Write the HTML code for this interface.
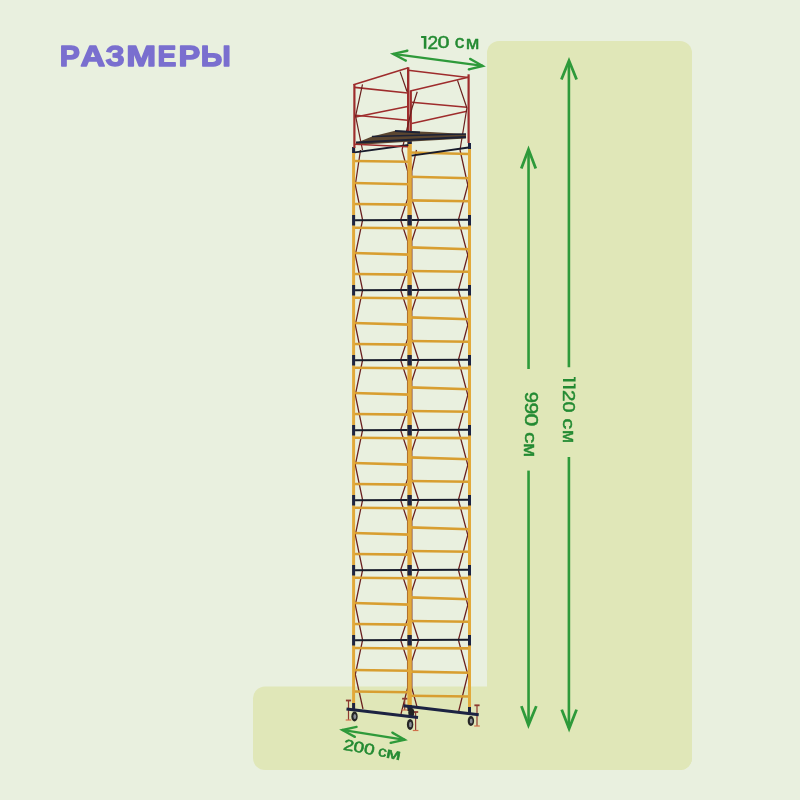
<!DOCTYPE html>
<html><head><meta charset="utf-8">
<style>
html,body{margin:0;padding:0;}
body{width:800px;height:800px;overflow:hidden;background:#e9f0df;position:relative;font-family:"Liberation Sans",sans-serif;}
svg{position:absolute;left:0;top:0;will-change:transform;}
svg text{font-family:"Liberation Sans",sans-serif;}
</style></head><body>
<svg width="800" height="800" viewBox="0 0 800 800">
<rect x="487" y="41" width="205" height="729" rx="12" fill="#e0e7b8"/>
<rect x="253" y="686.5" width="439" height="83.5" rx="12" fill="#e0e7b8"/>
<polyline points="360.50,150.00 355.30,185.00 362.60,220.00 355.30,255.00 362.60,290.00 355.30,325.00 362.60,360.00 355.30,395.00 362.60,430.00 355.30,465.00 362.60,500.00 355.30,535.00 362.60,570.00 355.30,605.00 362.60,640.00 355.30,674.50 363.00,709.00" fill="none" stroke="#6a1f1d" stroke-width="1.25" stroke-linejoin="round"/>
<polyline points="402.00,150.00 407.60,171.00 407.60,199.00 400.60,220.00 407.60,241.00 407.60,269.00 400.60,290.00 407.60,311.00 407.60,339.00 400.60,360.00 407.60,381.00 407.60,409.00 400.60,430.00 407.60,451.00 407.60,479.00 400.60,500.00 407.60,521.00 407.60,549.00 400.60,570.00 407.60,591.00 407.60,619.00 400.60,640.00 407.60,661.00 407.60,688.00 401.00,714.00" fill="none" stroke="#6a1f1d" stroke-width="1.25" stroke-linejoin="round"/>
<polyline points="416.50,150.00 411.80,171.00 411.80,199.00 418.60,220.00 411.80,241.00 411.80,269.00 418.60,290.00 411.80,311.00 411.80,339.00 418.60,360.00 411.80,381.00 411.80,409.00 418.60,430.00 411.80,451.00 411.80,479.00 418.60,500.00 411.80,521.00 411.80,549.00 418.60,570.00 411.80,591.00 411.80,619.00 418.60,640.00 411.80,661.00 411.80,688.00 416.90,706.40" fill="none" stroke="#6a1f1d" stroke-width="1.25" stroke-linejoin="round"/>
<polyline points="460.00,150.00 467.80,185.00 458.40,220.00 467.80,255.00 458.40,290.00 467.80,325.00 458.40,360.00 467.80,395.00 458.40,430.00 467.80,465.00 458.40,500.00 467.80,535.00 458.40,570.00 467.80,605.00 458.40,640.00 467.80,674.50 458.50,712.00" fill="none" stroke="#6a1f1d" stroke-width="1.25" stroke-linejoin="round"/>
<line x1="353.60" y1="161.00" x2="409.60" y2="161.80" stroke="#d89e30" stroke-width="2.6" stroke-linecap="butt"/>
<line x1="353.60" y1="183.00" x2="409.60" y2="184.20" stroke="#d89e30" stroke-width="2.6" stroke-linecap="butt"/>
<line x1="353.60" y1="204.00" x2="409.60" y2="204.60" stroke="#d89e30" stroke-width="2.6" stroke-linecap="butt"/>
<line x1="409.60" y1="152.50" x2="469.50" y2="154.00" stroke="#d89e30" stroke-width="2.6" stroke-linecap="butt"/>
<line x1="409.60" y1="176.80" x2="469.50" y2="178.30" stroke="#d89e30" stroke-width="2.6" stroke-linecap="butt"/>
<line x1="409.60" y1="200.40" x2="469.50" y2="201.20" stroke="#d89e30" stroke-width="2.6" stroke-linecap="butt"/>
<line x1="353.60" y1="227.70" x2="409.60" y2="228.30" stroke="#d89e30" stroke-width="2.6" stroke-linecap="butt"/>
<line x1="353.60" y1="253.00" x2="409.60" y2="254.60" stroke="#d89e30" stroke-width="2.6" stroke-linecap="butt"/>
<line x1="353.60" y1="274.00" x2="409.60" y2="274.60" stroke="#d89e30" stroke-width="2.6" stroke-linecap="butt"/>
<line x1="409.60" y1="227.70" x2="469.50" y2="228.10" stroke="#d89e30" stroke-width="2.6" stroke-linecap="butt"/>
<line x1="409.60" y1="247.40" x2="469.50" y2="249.30" stroke="#d89e30" stroke-width="2.6" stroke-linecap="butt"/>
<line x1="409.60" y1="271.00" x2="469.50" y2="271.80" stroke="#d89e30" stroke-width="2.6" stroke-linecap="butt"/>
<line x1="353.60" y1="297.70" x2="409.60" y2="298.30" stroke="#d89e30" stroke-width="2.6" stroke-linecap="butt"/>
<line x1="353.60" y1="323.00" x2="409.60" y2="324.60" stroke="#d89e30" stroke-width="2.6" stroke-linecap="butt"/>
<line x1="353.60" y1="344.00" x2="409.60" y2="344.60" stroke="#d89e30" stroke-width="2.6" stroke-linecap="butt"/>
<line x1="409.60" y1="297.70" x2="469.50" y2="298.10" stroke="#d89e30" stroke-width="2.6" stroke-linecap="butt"/>
<line x1="409.60" y1="317.40" x2="469.50" y2="319.30" stroke="#d89e30" stroke-width="2.6" stroke-linecap="butt"/>
<line x1="409.60" y1="341.00" x2="469.50" y2="341.80" stroke="#d89e30" stroke-width="2.6" stroke-linecap="butt"/>
<line x1="353.60" y1="367.70" x2="409.60" y2="368.30" stroke="#d89e30" stroke-width="2.6" stroke-linecap="butt"/>
<line x1="353.60" y1="393.00" x2="409.60" y2="394.60" stroke="#d89e30" stroke-width="2.6" stroke-linecap="butt"/>
<line x1="353.60" y1="414.00" x2="409.60" y2="414.60" stroke="#d89e30" stroke-width="2.6" stroke-linecap="butt"/>
<line x1="409.60" y1="367.70" x2="469.50" y2="368.10" stroke="#d89e30" stroke-width="2.6" stroke-linecap="butt"/>
<line x1="409.60" y1="387.40" x2="469.50" y2="389.30" stroke="#d89e30" stroke-width="2.6" stroke-linecap="butt"/>
<line x1="409.60" y1="411.00" x2="469.50" y2="411.80" stroke="#d89e30" stroke-width="2.6" stroke-linecap="butt"/>
<line x1="353.60" y1="437.70" x2="409.60" y2="438.30" stroke="#d89e30" stroke-width="2.6" stroke-linecap="butt"/>
<line x1="353.60" y1="463.00" x2="409.60" y2="464.60" stroke="#d89e30" stroke-width="2.6" stroke-linecap="butt"/>
<line x1="353.60" y1="484.00" x2="409.60" y2="484.60" stroke="#d89e30" stroke-width="2.6" stroke-linecap="butt"/>
<line x1="409.60" y1="437.70" x2="469.50" y2="438.10" stroke="#d89e30" stroke-width="2.6" stroke-linecap="butt"/>
<line x1="409.60" y1="457.40" x2="469.50" y2="459.30" stroke="#d89e30" stroke-width="2.6" stroke-linecap="butt"/>
<line x1="409.60" y1="481.00" x2="469.50" y2="481.80" stroke="#d89e30" stroke-width="2.6" stroke-linecap="butt"/>
<line x1="353.60" y1="507.70" x2="409.60" y2="508.30" stroke="#d89e30" stroke-width="2.6" stroke-linecap="butt"/>
<line x1="353.60" y1="533.00" x2="409.60" y2="534.60" stroke="#d89e30" stroke-width="2.6" stroke-linecap="butt"/>
<line x1="353.60" y1="554.00" x2="409.60" y2="554.60" stroke="#d89e30" stroke-width="2.6" stroke-linecap="butt"/>
<line x1="409.60" y1="507.70" x2="469.50" y2="508.10" stroke="#d89e30" stroke-width="2.6" stroke-linecap="butt"/>
<line x1="409.60" y1="527.40" x2="469.50" y2="529.30" stroke="#d89e30" stroke-width="2.6" stroke-linecap="butt"/>
<line x1="409.60" y1="551.00" x2="469.50" y2="551.80" stroke="#d89e30" stroke-width="2.6" stroke-linecap="butt"/>
<line x1="353.60" y1="577.70" x2="409.60" y2="578.30" stroke="#d89e30" stroke-width="2.6" stroke-linecap="butt"/>
<line x1="353.60" y1="603.00" x2="409.60" y2="604.60" stroke="#d89e30" stroke-width="2.6" stroke-linecap="butt"/>
<line x1="353.60" y1="624.00" x2="409.60" y2="624.60" stroke="#d89e30" stroke-width="2.6" stroke-linecap="butt"/>
<line x1="409.60" y1="577.70" x2="469.50" y2="578.10" stroke="#d89e30" stroke-width="2.6" stroke-linecap="butt"/>
<line x1="409.60" y1="597.40" x2="469.50" y2="599.30" stroke="#d89e30" stroke-width="2.6" stroke-linecap="butt"/>
<line x1="409.60" y1="621.00" x2="469.50" y2="621.80" stroke="#d89e30" stroke-width="2.6" stroke-linecap="butt"/>
<line x1="353.60" y1="648.00" x2="409.60" y2="648.50" stroke="#d89e30" stroke-width="2.6" stroke-linecap="butt"/>
<line x1="353.60" y1="670.00" x2="409.60" y2="670.80" stroke="#d89e30" stroke-width="2.6" stroke-linecap="butt"/>
<line x1="353.60" y1="691.50" x2="409.60" y2="692.30" stroke="#d89e30" stroke-width="2.6" stroke-linecap="butt"/>
<line x1="409.60" y1="648.00" x2="469.50" y2="648.40" stroke="#d89e30" stroke-width="2.6" stroke-linecap="butt"/>
<line x1="409.60" y1="671.60" x2="469.50" y2="672.80" stroke="#d89e30" stroke-width="2.6" stroke-linecap="butt"/>
<line x1="409.60" y1="695.70" x2="469.50" y2="696.50" stroke="#d89e30" stroke-width="2.6" stroke-linecap="butt"/>
<line x1="353.60" y1="220.30" x2="409.60" y2="220.00" stroke="#181b2b" stroke-width="2.1" stroke-linecap="butt"/>
<line x1="409.60" y1="220.00" x2="469.50" y2="219.70" stroke="#181b2b" stroke-width="2.1" stroke-linecap="butt"/>
<line x1="353.60" y1="290.30" x2="409.60" y2="290.00" stroke="#181b2b" stroke-width="2.1" stroke-linecap="butt"/>
<line x1="409.60" y1="290.00" x2="469.50" y2="289.70" stroke="#181b2b" stroke-width="2.1" stroke-linecap="butt"/>
<line x1="353.60" y1="360.30" x2="409.60" y2="360.00" stroke="#181b2b" stroke-width="2.1" stroke-linecap="butt"/>
<line x1="409.60" y1="360.00" x2="469.50" y2="359.70" stroke="#181b2b" stroke-width="2.1" stroke-linecap="butt"/>
<line x1="353.60" y1="430.30" x2="409.60" y2="430.00" stroke="#181b2b" stroke-width="2.1" stroke-linecap="butt"/>
<line x1="409.60" y1="430.00" x2="469.50" y2="429.70" stroke="#181b2b" stroke-width="2.1" stroke-linecap="butt"/>
<line x1="353.60" y1="500.30" x2="409.60" y2="500.00" stroke="#181b2b" stroke-width="2.1" stroke-linecap="butt"/>
<line x1="409.60" y1="500.00" x2="469.50" y2="499.70" stroke="#181b2b" stroke-width="2.1" stroke-linecap="butt"/>
<line x1="353.60" y1="570.30" x2="409.60" y2="570.00" stroke="#181b2b" stroke-width="2.1" stroke-linecap="butt"/>
<line x1="409.60" y1="570.00" x2="469.50" y2="569.70" stroke="#181b2b" stroke-width="2.1" stroke-linecap="butt"/>
<line x1="353.60" y1="640.30" x2="409.60" y2="640.00" stroke="#181b2b" stroke-width="2.1" stroke-linecap="butt"/>
<line x1="409.60" y1="640.00" x2="469.50" y2="639.70" stroke="#181b2b" stroke-width="2.1" stroke-linecap="butt"/>
<line x1="353.60" y1="147.00" x2="353.60" y2="709.00" stroke="#e2a93a" stroke-width="3" stroke-linecap="butt"/>
<line x1="353.60" y1="215.00" x2="353.60" y2="225.50" stroke="#1c2342" stroke-width="3" stroke-linecap="butt"/>
<line x1="353.60" y1="285.00" x2="353.60" y2="295.50" stroke="#1c2342" stroke-width="3" stroke-linecap="butt"/>
<line x1="353.60" y1="355.00" x2="353.60" y2="365.50" stroke="#1c2342" stroke-width="3" stroke-linecap="butt"/>
<line x1="353.60" y1="425.00" x2="353.60" y2="435.50" stroke="#1c2342" stroke-width="3" stroke-linecap="butt"/>
<line x1="353.60" y1="495.00" x2="353.60" y2="505.50" stroke="#1c2342" stroke-width="3" stroke-linecap="butt"/>
<line x1="353.60" y1="565.00" x2="353.60" y2="575.50" stroke="#1c2342" stroke-width="3" stroke-linecap="butt"/>
<line x1="353.60" y1="635.00" x2="353.60" y2="645.50" stroke="#1c2342" stroke-width="3" stroke-linecap="butt"/>
<line x1="353.60" y1="147.00" x2="353.60" y2="153.00" stroke="#1c2342" stroke-width="3" stroke-linecap="butt"/>
<line x1="409.60" y1="138.00" x2="409.60" y2="711.00" stroke="#e2a93a" stroke-width="4.4" stroke-linecap="butt"/>
<line x1="409.60" y1="215.00" x2="409.60" y2="225.50" stroke="#1c2342" stroke-width="4.4" stroke-linecap="butt"/>
<line x1="409.60" y1="285.00" x2="409.60" y2="295.50" stroke="#1c2342" stroke-width="4.4" stroke-linecap="butt"/>
<line x1="409.60" y1="355.00" x2="409.60" y2="365.50" stroke="#1c2342" stroke-width="4.4" stroke-linecap="butt"/>
<line x1="409.60" y1="425.00" x2="409.60" y2="435.50" stroke="#1c2342" stroke-width="4.4" stroke-linecap="butt"/>
<line x1="409.60" y1="495.00" x2="409.60" y2="505.50" stroke="#1c2342" stroke-width="4.4" stroke-linecap="butt"/>
<line x1="409.60" y1="565.00" x2="409.60" y2="575.50" stroke="#1c2342" stroke-width="4.4" stroke-linecap="butt"/>
<line x1="409.60" y1="635.00" x2="409.60" y2="645.50" stroke="#1c2342" stroke-width="4.4" stroke-linecap="butt"/>
<line x1="409.60" y1="138.00" x2="409.60" y2="144.00" stroke="#1c2342" stroke-width="4.4" stroke-linecap="butt"/>
<line x1="469.50" y1="143.00" x2="469.50" y2="713.00" stroke="#e2a93a" stroke-width="3" stroke-linecap="butt"/>
<line x1="469.50" y1="215.00" x2="469.50" y2="225.50" stroke="#1c2342" stroke-width="3" stroke-linecap="butt"/>
<line x1="469.50" y1="285.00" x2="469.50" y2="295.50" stroke="#1c2342" stroke-width="3" stroke-linecap="butt"/>
<line x1="469.50" y1="355.00" x2="469.50" y2="365.50" stroke="#1c2342" stroke-width="3" stroke-linecap="butt"/>
<line x1="469.50" y1="425.00" x2="469.50" y2="435.50" stroke="#1c2342" stroke-width="3" stroke-linecap="butt"/>
<line x1="469.50" y1="495.00" x2="469.50" y2="505.50" stroke="#1c2342" stroke-width="3" stroke-linecap="butt"/>
<line x1="469.50" y1="565.00" x2="469.50" y2="575.50" stroke="#1c2342" stroke-width="3" stroke-linecap="butt"/>
<line x1="469.50" y1="635.00" x2="469.50" y2="645.50" stroke="#1c2342" stroke-width="3" stroke-linecap="butt"/>
<line x1="469.50" y1="143.00" x2="469.50" y2="149.00" stroke="#1c2342" stroke-width="3" stroke-linecap="butt"/>
<line x1="353.60" y1="703.00" x2="353.60" y2="709.00" stroke="#1c2342" stroke-width="3" stroke-linecap="butt"/>
<line x1="469.50" y1="707.00" x2="469.50" y2="713.00" stroke="#1c2342" stroke-width="3" stroke-linecap="butt"/>
<line x1="409.60" y1="705.00" x2="409.60" y2="711.00" stroke="#1c2342" stroke-width="4.4" stroke-linecap="butt"/>
<line x1="354.40" y1="84.00" x2="354.40" y2="148.00" stroke="#9e2c2c" stroke-width="2.2" stroke-linecap="butt"/>
<line x1="408.20" y1="67.30" x2="408.20" y2="140.00" stroke="#9e2c2c" stroke-width="2.4" stroke-linecap="butt"/>
<line x1="410.80" y1="90.50" x2="410.80" y2="140.00" stroke="#9e2c2c" stroke-width="2.2" stroke-linecap="butt"/>
<line x1="468.60" y1="74.30" x2="468.60" y2="143.00" stroke="#9e2c2c" stroke-width="2.2" stroke-linecap="butt"/>
<line x1="353.50" y1="84.80" x2="408.40" y2="67.70" stroke="#9e2c2c" stroke-width="1.6" stroke-linecap="butt"/>
<line x1="408.10" y1="70.30" x2="468.20" y2="77.50" stroke="#9e2c2c" stroke-width="1.5" stroke-linecap="butt"/>
<line x1="410.30" y1="90.90" x2="468.20" y2="77.20" stroke="#9e2c2c" stroke-width="1.5" stroke-linecap="butt"/>
<line x1="354.60" y1="87.40" x2="407.60" y2="93.00" stroke="#9e2c2c" stroke-width="1.6" stroke-linecap="butt"/>
<line x1="355.60" y1="116.90" x2="407.60" y2="106.40" stroke="#9e2c2c" stroke-width="1.5" stroke-linecap="butt"/>
<line x1="355.60" y1="115.30" x2="407.60" y2="120.20" stroke="#9e2c2c" stroke-width="1.5" stroke-linecap="butt"/>
<line x1="411.60" y1="102.30" x2="466.90" y2="107.20" stroke="#9e2c2c" stroke-width="1.5" stroke-linecap="butt"/>
<line x1="411.60" y1="123.40" x2="466.90" y2="111.25" stroke="#9e2c2c" stroke-width="1.5" stroke-linecap="butt"/>
<polyline points="362.50,84.30 355.60,116.10 362.50,150.00" fill="none" stroke="#6a1f1d" stroke-width="1.2" stroke-linejoin="round"/>
<polyline points="400.10,71.60 407.10,91.75" fill="none" stroke="#6a1f1d" stroke-width="1.2" stroke-linejoin="round"/>
<polyline points="417.25,91.75 412.00,108.00 402.00,150.00" fill="none" stroke="#6a1f1d" stroke-width="1.2" stroke-linejoin="round"/>
<polyline points="457.50,80.40 466.90,108.00 460.00,150.00" fill="none" stroke="#6a1f1d" stroke-width="1.2" stroke-linejoin="round"/>
<polygon points="356,143 372,136.5 396,130.5 430,132 466,134 466,138.5 412,141.5 356,145" fill="#5b4630"/>
<line x1="356.00" y1="142.50" x2="466.00" y2="137.00" stroke="#1d2236" stroke-width="2.2" stroke-linecap="butt"/>
<line x1="372.00" y1="136.50" x2="466.00" y2="134.00" stroke="#1d2236" stroke-width="1.4" stroke-linecap="butt"/>
<line x1="395.00" y1="131.00" x2="420.00" y2="132.50" stroke="#1d2236" stroke-width="2" stroke-linecap="butt"/>
<line x1="354.75" y1="152.40" x2="408.40" y2="145.00" stroke="#181b2b" stroke-width="1.8" stroke-linecap="butt"/>
<line x1="411.60" y1="155.60" x2="468.50" y2="147.50" stroke="#181b2b" stroke-width="1.8" stroke-linecap="butt"/>
<line x1="354.75" y1="144.30" x2="408.00" y2="146.70" stroke="#9e2c2c" stroke-width="1.4" stroke-linecap="butt"/>
<line x1="348.50" y1="700.50" x2="348.50" y2="720.00" stroke="#8c3a30" stroke-width="1.2" stroke-linecap="butt"/>
<line x1="345.90" y1="700.50" x2="351.10" y2="700.50" stroke="#8c3a30" stroke-width="1.8" stroke-linecap="butt"/>
<line x1="345.70" y1="720.00" x2="351.30" y2="720.00" stroke="#d0704a" stroke-width="1.2" stroke-linecap="butt"/>
<line x1="415.60" y1="712.00" x2="415.60" y2="730.50" stroke="#8c3a30" stroke-width="1.2" stroke-linecap="butt"/>
<line x1="413.00" y1="712.00" x2="418.20" y2="712.00" stroke="#8c3a30" stroke-width="1.8" stroke-linecap="butt"/>
<line x1="412.80" y1="730.50" x2="418.40" y2="730.50" stroke="#d0704a" stroke-width="1.2" stroke-linecap="butt"/>
<line x1="477.00" y1="705.30" x2="477.00" y2="726.00" stroke="#8c3a30" stroke-width="1.2" stroke-linecap="butt"/>
<line x1="474.40" y1="705.30" x2="479.60" y2="705.30" stroke="#8c3a30" stroke-width="1.8" stroke-linecap="butt"/>
<line x1="474.20" y1="726.00" x2="479.80" y2="726.00" stroke="#d0704a" stroke-width="1.2" stroke-linecap="butt"/>
<line x1="404.70" y1="698.70" x2="404.70" y2="710.00" stroke="#8c3a30" stroke-width="1.2" stroke-linecap="butt"/>
<line x1="402.10" y1="698.70" x2="407.30" y2="698.70" stroke="#8c3a30" stroke-width="1.8" stroke-linecap="butt"/>
<line x1="401.90" y1="710.00" x2="407.50" y2="710.00" stroke="#d0704a" stroke-width="1.2" stroke-linecap="butt"/>
<ellipse cx="411.25" cy="712.5" rx="3" ry="4.5" fill="#222"/>
<line x1="346.50" y1="709.00" x2="418.00" y2="717.50" stroke="#1c2342" stroke-width="3" stroke-linecap="butt"/>
<line x1="403.40" y1="705.80" x2="478.75" y2="714.80" stroke="#1c2342" stroke-width="3" stroke-linecap="butt"/>
<ellipse cx="354.5" cy="716.5" rx="3.2" ry="5" fill="#262626"/>
<ellipse cx="354.8" cy="716.5" rx="1.4" ry="2.5" fill="#8a8f96"/>
<ellipse cx="410.1" cy="724.4" rx="3.2" ry="5.5" fill="#262626"/>
<ellipse cx="410.40000000000003" cy="724.4" rx="1.4" ry="2.75" fill="#8a8f96"/>
<ellipse cx="470.9" cy="721" rx="3.2" ry="5" fill="#262626"/>
<ellipse cx="471.2" cy="721" rx="1.4" ry="2.5" fill="#8a8f96"/>
<polygon points="389.90,53.40 407.23,49.61 407.57,51.89 396.45,54.32 406.38,59.65 405.42,61.75" fill="#2e9a3a"/>
<circle cx="407.40" cy="50.75" r="1.15" fill="#2e9a3a"/>
<circle cx="405.90" cy="60.70" r="1.15" fill="#2e9a3a"/>
<polygon points="485.90,66.40 470.59,57.86 469.61,59.94 479.68,65.56 468.60,68.27 469.00,70.53" fill="#2e9a3a"/>
<circle cx="470.10" cy="58.90" r="1.15" fill="#2e9a3a"/>
<circle cx="468.80" cy="69.40" r="1.15" fill="#2e9a3a"/>
<line x1="393.00" y1="53.80" x2="483.00" y2="65.90" stroke="#2e9a3a" stroke-width="2.3" stroke-linecap="butt"/>
<polygon points="339.10,729.40 356.44,725.76 356.76,728.04 345.58,730.39 355.39,735.86 354.41,737.94" fill="#2e9a3a"/>
<circle cx="356.60" cy="726.90" r="1.15" fill="#2e9a3a"/>
<circle cx="354.90" cy="736.90" r="1.15" fill="#2e9a3a"/>
<polygon points="407.90,740.25 392.81,731.57 391.79,733.63 401.62,739.29 390.43,741.76 390.77,744.04" fill="#2e9a3a"/>
<circle cx="392.30" cy="732.60" r="1.15" fill="#2e9a3a"/>
<circle cx="390.60" cy="742.90" r="1.15" fill="#2e9a3a"/>
<line x1="342.00" y1="729.90" x2="405.00" y2="739.80" stroke="#2e9a3a" stroke-width="2.3" stroke-linecap="butt"/>
<polygon points="569.00,57.00 560.10,79.06 562.70,79.94 569.00,64.34 575.30,79.94 577.90,79.06" fill="#2e9a3a"/>
<polygon points="569.10,732.40 560.39,710.02 563.01,709.18 569.11,724.85 575.24,709.17 577.86,710.03" fill="#2e9a3a"/>
<line x1="568.90" y1="62.00" x2="568.90" y2="367.25" stroke="#2e9a3a" stroke-width="2.6" stroke-linecap="butt"/>
<line x1="568.90" y1="457.00" x2="568.90" y2="728.00" stroke="#2e9a3a" stroke-width="2.6" stroke-linecap="butt"/>
<polygon points="528.50,145.50 519.99,168.09 522.61,168.91 528.51,153.27 534.44,168.91 537.06,168.09" fill="#2e9a3a"/>
<polygon points="528.40,728.90 520.09,706.50 522.71,705.70 528.53,721.37 535.00,705.65 537.60,706.55" fill="#2e9a3a"/>
<line x1="528.55" y1="150.00" x2="528.55" y2="369.00" stroke="#2e9a3a" stroke-width="2.6" stroke-linecap="butt"/>
<line x1="528.55" y1="470.60" x2="528.55" y2="725.00" stroke="#2e9a3a" stroke-width="2.6" stroke-linecap="butt"/>
<text transform="matrix(0.7539 0 0 0.7478 59.73 65.79)" font-size="40" font-weight="bold" fill="#7a6fcf" stroke="#7a6fcf" stroke-width="1.9" stroke-linejoin="round">Р</text>
<text transform="matrix(0.8537 0 0 0.7478 80.42 65.79)" font-size="40" font-weight="bold" fill="#7a6fcf" stroke="#7a6fcf" stroke-width="1.9" stroke-linejoin="round">А</text>
<text transform="matrix(0.7664 0 0 0.7280 105.49 65.52)" font-size="40" font-weight="bold" fill="#7a6fcf" stroke="#7a6fcf" stroke-width="1.9" stroke-linejoin="round">З</text>
<text transform="matrix(0.8980 0 0 0.7478 126.23 65.79)" font-size="40" font-weight="bold" fill="#7a6fcf" stroke="#7a6fcf" stroke-width="1.9" stroke-linejoin="round">М</text>
<text transform="matrix(0.7055 0 0 0.7478 157.51 65.79)" font-size="40" font-weight="bold" fill="#7a6fcf" stroke="#7a6fcf" stroke-width="1.9" stroke-linejoin="round">Е</text>
<text transform="matrix(0.8150 0 0 0.7478 178.62 65.79)" font-size="40" font-weight="bold" fill="#7a6fcf" stroke="#7a6fcf" stroke-width="1.9" stroke-linejoin="round">Р</text>
<text transform="matrix(0.7694 0 0 0.7478 200.70 65.79)" font-size="40" font-weight="bold" fill="#7a6fcf" stroke="#7a6fcf" stroke-width="1.9" stroke-linejoin="round">Ы</text>
<path d="M421.10,36.10H426.40V48.80H423.80V37.90H421.10Z" fill="#238a32"/>
<text transform="matrix(0.4769 0 0 0.4384 427.40 48.57)" font-size="40" font-weight="normal" fill="#238a32" stroke="#238a32" stroke-width="1.05" stroke-linejoin="round">2</text>
<text transform="matrix(0.5404 0 0 0.4324 437.62 48.40)" font-size="40" font-weight="normal" fill="#238a32" stroke="#238a32" stroke-width="1.05" stroke-linejoin="round">0</text>
<text transform="matrix(0.4801 0 0 0.4375 454.65 48.40)" font-size="40" font-weight="normal" fill="#238a32" stroke="#238a32" stroke-width="1.05" stroke-linejoin="round">с</text>
<text transform="matrix(0.4963 0 0 0.4533 465.87 48.56)" font-size="40" font-weight="normal" fill="#238a32" stroke="#238a32" stroke-width="1.05" stroke-linejoin="round">м</text>
<g transform="translate(563.0,0) rotate(90)"><path d="M377.00,-12.60H381.60V0.00H379.00V-10.80H377.00Z" fill="#238a32"/><path d="M383.80,-12.60H388.50V0.00H385.90V-10.80H383.80Z" fill="#238a32"/><text transform="matrix(0.5132 0 0 0.4349 389.94 -0.23)" font-size="40" font-weight="normal" fill="#238a32" stroke="#238a32" stroke-width="1.05" stroke-linejoin="round">2</text><text transform="matrix(0.4908 0 0 0.4290 401.47 -0.40)" font-size="40" font-weight="normal" fill="#238a32" stroke="#238a32" stroke-width="1.05" stroke-linejoin="round">0</text><text transform="matrix(0.5456 0 0 0.4354 418.37 -0.40)" font-size="40" font-weight="normal" fill="#238a32" stroke="#238a32" stroke-width="1.05" stroke-linejoin="round">с</text><text transform="matrix(0.4789 0 0 0.4511 429.91 -0.24)" font-size="40" font-weight="normal" fill="#238a32" stroke="#238a32" stroke-width="1.05" stroke-linejoin="round">м</text></g>
<g transform="translate(524.1,0) rotate(90)"><text transform="matrix(0.5069 0 0 0.4597 391.83 -0.43)" font-size="40" font-weight="normal" fill="#238a32" stroke="#238a32" stroke-width="1.05" stroke-linejoin="round">9</text><text transform="matrix(0.5300 0 0 0.4597 402.60 -0.43)" font-size="40" font-weight="normal" fill="#238a32" stroke="#238a32" stroke-width="1.05" stroke-linejoin="round">9</text><text transform="matrix(0.5801 0 0 0.4597 413.48 -0.43)" font-size="40" font-weight="normal" fill="#238a32" stroke="#238a32" stroke-width="1.05" stroke-linejoin="round">0</text><text transform="matrix(0.5646 0 0 0.4310 431.90 -0.40)" font-size="40" font-weight="normal" fill="#238a32" stroke="#238a32" stroke-width="1.05" stroke-linejoin="round">с</text><text transform="matrix(0.5115 0 0 0.4465 443.09 -0.23)" font-size="40" font-weight="normal" fill="#238a32" stroke="#238a32" stroke-width="1.05" stroke-linejoin="round">м</text></g>
<g transform="translate(343.4,749.9) rotate(10.5)"><text transform="matrix(0.4696 0 0 0.3826 -0.62 -0.26)" font-size="40" font-weight="normal" fill="#238a32" stroke="#238a32" stroke-width="1.35" stroke-linejoin="round">2</text><text transform="matrix(0.4787 0 0 0.3775 9.56 -0.41)" font-size="40" font-weight="normal" fill="#238a32" stroke="#238a32" stroke-width="1.35" stroke-linejoin="round">0</text><text transform="matrix(0.4787 0 0 0.3775 20.16 -0.41)" font-size="40" font-weight="normal" fill="#238a32" stroke="#238a32" stroke-width="1.35" stroke-linejoin="round">0</text><text transform="matrix(0.4240 0 0 0.3696 34.67 -0.40)" font-size="40" font-weight="normal" fill="#238a32" stroke="#238a32" stroke-width="1.35" stroke-linejoin="round">с</text><text transform="matrix(0.5372 0 0 0.3827 42.86 -0.26)" font-size="40" font-weight="normal" fill="#238a32" stroke="#238a32" stroke-width="1.35" stroke-linejoin="round">м</text></g>
</svg>
</body></html>
